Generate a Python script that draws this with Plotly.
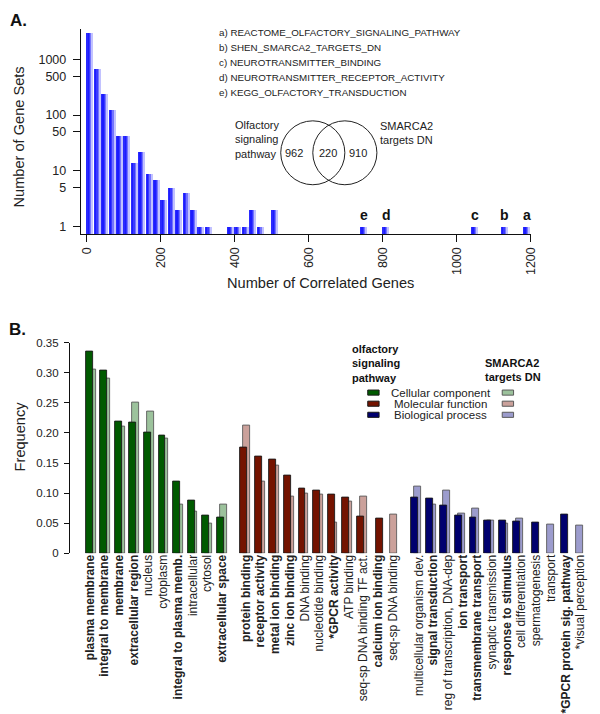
import plotly.graph_objects as go

# ---------------- Panel A data ----------------
bin_starts = [0, 20, 40, 60, 80, 100, 120, 140, 160, 180, 200, 220, 240, 260, 280,
              300, 320, 380, 400, 420, 440, 460, 500, 740, 800, 1040, 1120, 1180]
gene_set_counts = [3000, 690, 240, 125, 43, 42, 14, 22, 9, 7, 3, 5, 2, 4, 2,
                   1, 1, 1, 1, 1, 2, 1, 2, 1, 1, 1, 1, 1]
highlight_bins = [1180, 1120, 1040, 800, 740]
highlight_letters = ["a", "b", "c", "d", "e"]
gene_set_names = ["a) REACTOME_OLFACTORY_SIGNALING_PATHWAY",
                  "b) SHEN_SMARCA2_TARGETS_DN",
                  "c) NEUROTRANSMITTER_BINDING",
                  "d) NEUROTRANSMITTER_RECEPTOR_ACTIVITY",
                  "e) KEGG_OLFACTORY_TRANSDUCTION"]
venn_counts = [962, 220, 910]
venn_set_labels = ["Olfactory<br>signaling<br>pathway", "SMARCA2<br>targets DN"]
a_xticks = [0, 200, 400, 600, 800, 1000, 1200]
a_yticks = [1, 5, 10, 50, 100, 500, 1000]

# ---------------- Panel B data ----------------
cc_terms = ["plasma membrane", "integral to membrane", "membrane", "extracellular region",
            "nucleus", "cytoplasm", "integral to plasma memb.", "intracellular",
            "cytosol", "extracellular space"]
cc_olf = [0.335, 0.303, 0.219, 0.218, 0.200, 0.195, 0.120, 0.087, 0.062, 0.060]
cc_sma = [0.306, 0.290, 0.211, 0.250, 0.236, 0.190, 0.081, 0.069, 0.050, 0.081]

mf_terms = ["protein binding", "receptor activity", "metal ion binding", "zinc ion binding",
            "DNA binding", "nucleotide binding", "*GPCR activity", "ATP binding",
            "seq-sp DNA binding TF act.", "calcium ion binding", "seq-sp DNA binding"]
mf_olf = [0.175, 0.160, 0.155, 0.129, 0.108, 0.104, 0.098, 0.092, 0.061, 0.058, None]
mf_sma = [0.212, 0.119, 0.146, 0.094, 0.099, 0.098, 0.051, 0.086, 0.094, None, 0.064]

bp_terms = ["multicellular organism dev.", "signal transduction",
            "reg of transcription, DNA-dep", "ion transport", "transmembrane transport",
            "synaptic transmission", "response to stimulus", "cell differentiation",
            "spermatogenesis", "transport", "*GPCR protein sig. pathway",
            "*visual perception"]
bp_olf = [0.093, 0.091, 0.080, 0.063, 0.060, 0.055, 0.055, 0.053, 0.051, None, 0.065, None]
bp_sma = [0.111, 0.081, 0.105, 0.066, 0.074, 0.055, 0.050, 0.058, None, 0.048, None, 0.046]

bold_terms = ["plasma membrane", "integral to membrane", "membrane", "extracellular region",
              "integral to plasma memb.", "extracellular space", "protein binding",
              "receptor activity", "metal ion binding", "zinc ion binding",
              "*GPCR activity", "calcium ion binding", "signal transduction",
              "ion transport", "transmembrane transport", "response to stimulus",
              "*GPCR protein sig. pathway"]
b_yticks = [0, 0.05, 0.10, 0.15, 0.20, 0.25, 0.30, 0.35]
b_yticktext = ["0", "0.05", "0.10", "0.15", "0.20", "0.25", "0.30", "0.35"]
legend_names = ["Cellular component", "Molecular function", "Biological process"]

# ---------------- styling / layout helpers ----------------
W, H = 600, 714
FONT = "Liberation Sans, Arial, sans-serif"


def fx(px):
    return px / W


def fy(py):
    return 1 - py / H


fig = go.Figure()

# Panel A histogram with a left-to-right gradient (strips)
strip_colors = ["#2b2bff", "#1c1cff", "#3a3aff", "#7474ff", "#c2c2ff"]
strip_w = 3.4
for k, col in enumerate(strip_colors):
    fig.add_trace(go.Bar(
        x=[b + k * strip_w + strip_w / 2 for b in bin_starts],
        y=gene_set_counts, width=strip_w,
        marker=dict(color=col, line=dict(width=0)),
        xaxis="x", yaxis="y", showlegend=False, hoverinfo="skip"))

# Panel B bars
groups = [
    (0.0, cc_terms, cc_olf, cc_sma, "#005a00", "#9cc29c"),
    (10.62, mf_terms, mf_olf, mf_sma, "#741300", "#cba19b"),
    (22.37, bp_terms, bp_olf, bp_sma, "#00006e", "#9c9ccd"),
]
bw = 0.475
lx, ly, lc, dx, dy, dc = [], [], [], [], [], []
tickvals, ticktext = [], []
for start, terms, olf, sma, dark, light in groups:
    for i, term in enumerate(terms):
        s = start + i
        both = olf[i] is not None and sma[i] is not None
        if sma[i] is not None:
            lx.append(s + (0.4375 if both else 0.5375))
            ly.append(sma[i])
            lc.append(light)
        if olf[i] is not None:
            dx.append(s + (0.2375 if both else 0.5375))
            dy.append(olf[i])
            dc.append(dark)
        tickvals.append(s + 0.27 + 0.0102 * s)
        ticktext.append("<b>%s</b>" % term if term in bold_terms else term)

fig.add_trace(go.Bar(x=lx, y=ly, width=bw, marker=dict(color=lc, line=dict(color="#5a5a5a", width=0.9)),
                     xaxis="x2", yaxis="y2", showlegend=False, hoverinfo="skip"))
fig.add_trace(go.Bar(x=dx, y=dy, width=bw, marker=dict(color=dc, line=dict(color="#1a1a1a", width=0.9)),
                     xaxis="x2", yaxis="y2", showlegend=False, hoverinfo="skip"))

annotations = []
shapes = []


def note(text, x, y, size, xanchor="center", yanchor="middle", align="center",
         angle=0, color="#222", xref="paper"):
    annotations.append(dict(text=text, x=x, y=y, xref=xref, yref="paper",
                            xanchor=xanchor, yanchor=yanchor, align=align, textangle=angle,
                            showarrow=False, font=dict(size=size, family=FONT, color=color)))


# Panel labels
note("<b>A.</b>", fx(7), fy(15), 17, xanchor="left", color="#111")
note("<b>B.</b>", fx(6), fy(329), 17, xanchor="left", color="#111")

# Panel A titles
note("Number of Gene Sets", fx(18), fy(133), 14.6, angle=-90)
note("Number of Correlated Genes", fx(324), fy(282), 14.6)

# gene set list
for j, name in enumerate(gene_set_names):
    note(name, fx(219), fy(27 + 15.3 * j), 9.8, xanchor="left")

# highlight letters
for b, letter in zip(highlight_bins, highlight_letters):
    note("<b>%s</b>" % letter, b + 9, fy(213), 14, color="#111", xref="x")

# Venn diagram
for cx in (316, 348.5):
    shapes.append(dict(type="circle", xref="paper", yref="paper",
                       x0=fx(cx - 32.5), x1=fx(cx + 32.5), y0=fy(149.3 + 32.5), y1=fy(149.3 - 32.5),
                       line=dict(color="#222", width=1)))
for cx, v in zip((297, 331, 362), venn_counts):
    note(str(v), fx(cx), fy(150), 11)
note(venn_set_labels[0], fx(235), fy(135.5), 11, xanchor="left", align="left")
note(venn_set_labels[1], fx(382.5), fy(129.5), 11, xanchor="left", align="left")

# Panel B title
note("Frequency", fx(19), fy(438), 14.6, angle=-90)

# Panel B legend
note("<b>olfactory<br>signaling<br>pathway</b>", fx(354), fy(364), 11,
     xanchor="left", align="left", color="#111")
note("<b>SMARCA2<br>targets DN</b>", fx(489), fy(370.5), 11,
     xanchor="left", align="left", color="#111")
for j, ((start, terms, olf, sma, dark, light), nm) in enumerate(zip(groups, legend_names)):
    yc = 393.2 + 11.3 * j
    note(nm, fx(445.5), fy(yc), 11.5)
    for x0, col, lcol in ((371.7, dark, "#1a1a1a"), (508, light, "#5a5a5a")):
        shapes.append(dict(type="rect", xref="paper", yref="paper",
                           x0=fx(x0), x1=fx(x0 + 11.5), y0=fy(yc + 2.6), y1=fy(yc - 2.6),
                           fillcolor=col, line=dict(color=lcol, width=1)))

axis_font = dict(size=12.5, family=FONT, color="#222")
fig.update_layout(
    width=W, height=H, autosize=False,
    margin=dict(l=0, r=0, t=0, b=0),
    paper_bgcolor="white", plot_bgcolor="white",
    barmode="overlay", bargap=0,
    font=dict(family=FONT),
    xaxis=dict(domain=[fx(81), fx(537)], range=[-16, 1200], anchor="y",
               showline=True, linecolor="#111", linewidth=1.3, showgrid=False, zeroline=False,
               ticks="outside", ticklen=7, tickcolor="#111", tickwidth=1.2,
               tickvals=a_xticks, ticktext=[str(v) for v in a_xticks], tickangle=-90,
               tickfont=dict(size=12.5, family=FONT, color="#222")),
    yaxis=dict(domain=[fy(232), fy(23)], type="log", range=[-0.1416, 3.557], anchor="x",
               showline=True, linecolor="#111", linewidth=1.3, showgrid=False, zeroline=False,
               ticks="outside", ticklen=7, tickcolor="#111", tickwidth=1.2,
               tickvals=a_yticks, ticktext=[str(v) for v in a_yticks],
               ticklabelstandoff=4, tickfont=axis_font),
    xaxis2=dict(domain=[fx(70), 1.0], range=[-1.085, 34.85], anchor="y2",
                showline=False, showgrid=False, zeroline=False, ticks="",
                tickvals=tickvals, ticktext=ticktext, tickangle=-90, ticklabelstandoff=-2,
                tickfont=dict(size=12, family=FONT, color="#222")),
    yaxis2=dict(domain=[fy(556.7), fy(342.3)], range=[0, 0.35], anchor="x2",
                showline=True, linecolor="#111", linewidth=1.2, showgrid=False, zeroline=False,
                ticks="outside", ticklen=5, tickcolor="#111", tickwidth=1.1,
                tickvals=b_yticks, ticktext=b_yticktext, ticklabelstandoff=3,
                tickfont=dict(size=11.5, family=FONT, color="#222")),
    annotations=annotations, shapes=shapes,
)

fig.write_html("out.html", config={"displayModeBar": False},
               post_script="document.body.style.margin='0';document.body.style.overflow='hidden';")
